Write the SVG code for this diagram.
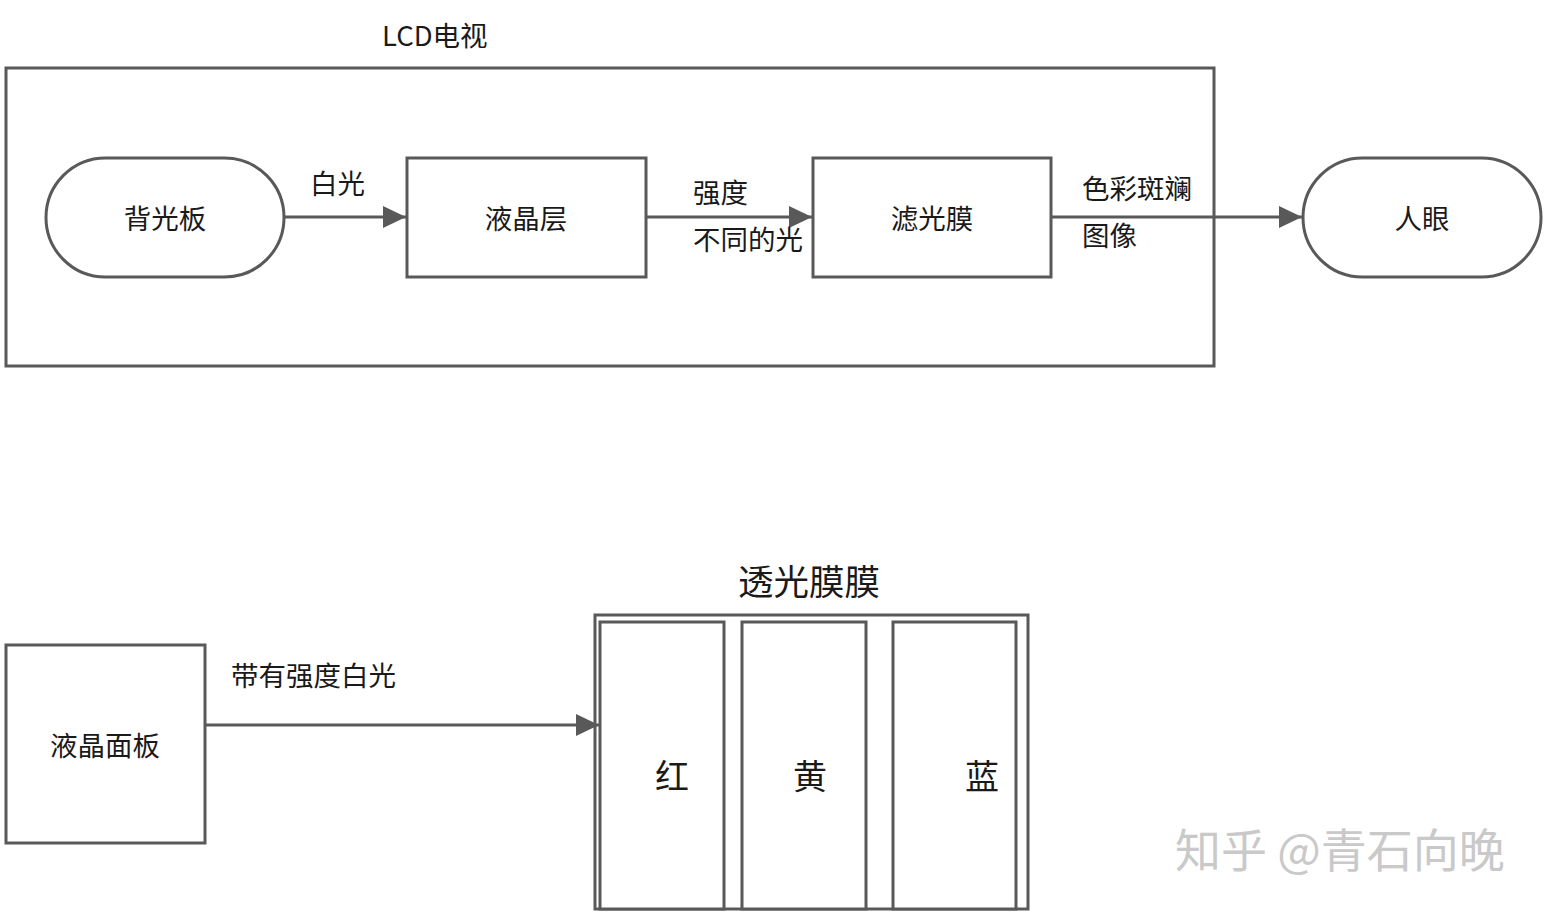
<svg xmlns="http://www.w3.org/2000/svg" width="1548" height="914" viewBox="0 0 1548 914">
<defs>
<style>
.s{fill:#fff;stroke:#595959;stroke-width:3}
.c{fill:none;stroke:#595959;stroke-width:3}
.t{font-family:"Noto Sans CJK SC","Liberation Sans",sans-serif;fill:#1a1a1a;font-size:27.5px}
.m{text-anchor:middle;dominant-baseline:central}
</style>
<marker id="ah" markerWidth="24" markerHeight="24" viewBox="0 0 24 24" refX="23" refY="12" orient="auto" markerUnits="userSpaceOnUse">
<path d="M0,1 L23,12 L0,23 Z" fill="#595959"/>
</marker>
</defs>
<rect width="1548" height="914" fill="#fff"/>
<g id="lcd-tv">
<rect class="s" x="6" y="68" width="1208" height="298"/>
<text class="t" x="382" y="46">LCD电视</text>
</g>
<g id="backlight">
<rect class="s" x="46" y="158" width="238" height="119" rx="59.5"/>
<text class="t m" x="165" y="217">背光板</text>
</g>
<g id="lc-layer">
<rect class="s" x="407" y="158" width="239" height="119"/>
<text class="t m" x="526" y="217">液晶层</text>
</g>
<g id="filter">
<rect class="s" x="813" y="158" width="238" height="119"/>
<text class="t m" x="932" y="217">滤光膜</text>
</g>
<g id="eye">
<rect class="s" x="1303" y="158" width="238" height="119" rx="59.5"/>
<text class="t m" x="1422" y="217">人眼</text>
</g>
<g id="lc-panel">
<rect class="s" x="6" y="645" width="199" height="198"/>
<text class="t m" x="105" y="744">液晶面板</text>
</g>
<g id="film">
<text class="t m" x="809" y="579" style="font-size:35.5px">透光膜膜</text>
<rect class="s" x="595" y="615" width="433" height="294"/>
<rect class="s" x="600" y="622" width="124" height="287"/>
<rect class="s" x="742" y="622" width="124" height="287"/>
<rect class="s" x="893" y="622" width="123" height="287"/>
<text class="t m" x="672" y="774" style="font-size:34px">红</text>
<text class="t m" x="810" y="774" style="font-size:34px">黄</text>
<text class="t m" x="982" y="774" style="font-size:34px">蓝</text>
</g>
<g id="connectors">
<line class="c" x1="284" y1="217" x2="406" y2="217" marker-end="url(#ah)"/>
<line class="c" x1="646" y1="217" x2="812" y2="217" marker-end="url(#ah)"/>
<line class="c" x1="1051" y1="217" x2="1302" y2="217" marker-end="url(#ah)"/>
<line class="c" x1="205" y1="725" x2="599" y2="725" marker-end="url(#ah)"/>
<text class="t" x="310" y="194">白光</text>
<text class="t" x="693" y="203">强度</text>
<text class="t" x="693" y="250">不同的光</text>
<text class="t" x="1082" y="199">色彩斑斓</text>
<text class="t" x="1082" y="246">图像</text>
<text class="t" x="231" y="686">带有强度白光</text>
</g>
<text x="1175" y="867" style="font-family:'Noto Sans CJK SC',sans-serif;font-size:46px;fill:#c9c9c9">知乎 @青石向晚</text>
</svg>
